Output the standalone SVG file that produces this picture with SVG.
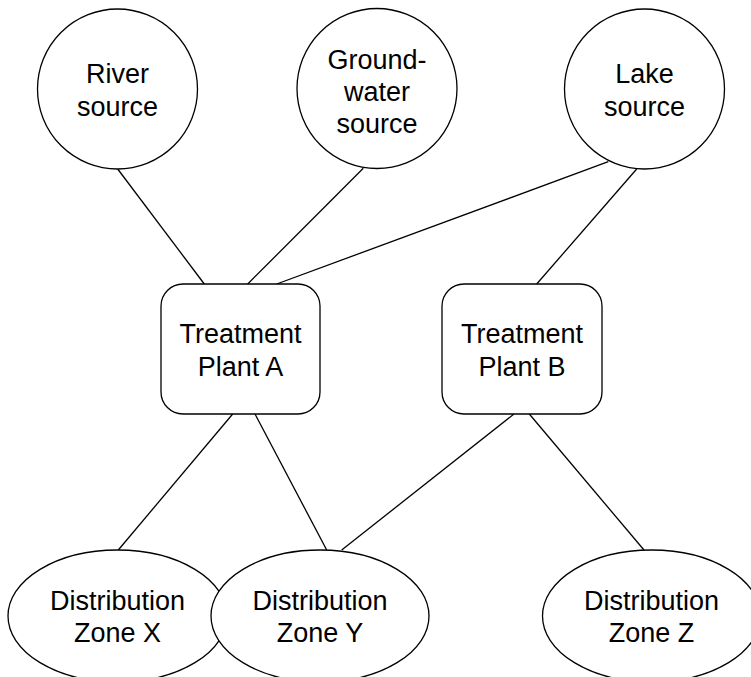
<svg xmlns="http://www.w3.org/2000/svg" width="751" height="677" viewBox="0 0 751 677">
<style>
.n{fill:#fff;stroke:#000;stroke-width:1.3}
.e line{stroke:#000;stroke-width:1.3}
text{font-family:"Liberation Sans",Arial,sans-serif;font-size:27px;fill:#000;text-anchor:middle}
</style>
<rect width="751" height="677" fill="#fff"/>
<g id="connectors" class="e">
<line x1="117.7" y1="169" x2="204.3" y2="284"/>
<line x1="363.3" y1="168.3" x2="247.7" y2="284"/>
<line x1="608.3" y1="161.7" x2="276.7" y2="284"/>
<line x1="636.7" y1="169" x2="536.7" y2="284"/>
<line x1="232.7" y1="414" x2="118.3" y2="550"/>
<line x1="255" y1="414" x2="326.7" y2="550"/>
<line x1="514" y1="414" x2="341.7" y2="550"/>
<line x1="529.3" y1="414" x2="644" y2="550"/>
</g>
<g id="river">
<circle class="n" cx="117.5" cy="89" r="80"/>
<text x="117.5" y="83">River</text>
<text x="117.5" y="116">source</text>
</g>
<g id="groundwater">
<circle class="n" cx="377" cy="88.5" r="80"/>
<text x="377" y="69">Ground-</text>
<text x="377" y="101">water</text>
<text x="377" y="133">source</text>
</g>
<g id="lake">
<circle class="n" cx="644.5" cy="89" r="80"/>
<text x="644.5" y="83">Lake</text>
<text x="644.5" y="116">source</text>
</g>
<g id="plantA">
<rect class="n" x="161" y="284" width="159" height="130" rx="22" ry="22"/>
<text x="240.5" y="343">Treatment</text>
<text x="240.5" y="376">Plant A</text>
</g>
<g id="plantB">
<rect class="n" x="442" y="284" width="160" height="130" rx="22" ry="22"/>
<text x="522" y="343">Treatment</text>
<text x="522" y="376">Plant B</text>
</g>
<g id="zoneX">
<ellipse class="n" cx="117.5" cy="616" rx="109.5" ry="66"/>
<text x="117.5" y="610">Distribution</text>
<text x="117.5" y="642">Zone X</text>
</g>
<g id="zoneY">
<ellipse class="n" cx="320" cy="616" rx="109" ry="66"/>
<text x="320" y="610">Distribution</text>
<text x="320" y="642">Zone Y</text>
</g>
<g id="zoneZ">
<ellipse class="n" cx="651.5" cy="616" rx="109" ry="66"/>
<text x="651.5" y="610">Distribution</text>
<text x="651.5" y="642">Zone Z</text>
</g>
</svg>
